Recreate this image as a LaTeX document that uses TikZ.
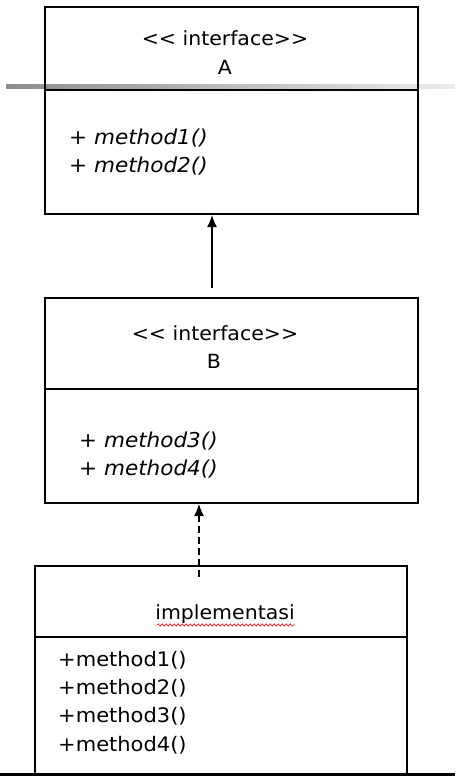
\documentclass[tikz,border=0pt]{standalone}
\usepackage{fontspec}
\setmainfont[FakeStretch=1.05]{DejaVu Sans}
\usetikzlibrary{arrows.meta,decorations.pathmorphing}
\begin{document}
\begin{tikzpicture}[x=1pt,y=-1pt,
  box/.style={draw,line width=1.4pt},
  txt/.style={font=\fontsize{19.5}{22}\selectfont,inner sep=0pt},
  mth/.style={font=\fontsize{20.5}{22}\selectfont\itshape,inner sep=0pt,anchor=west},
  imth/.style={font=\fontsize{20}{22}\selectfont,inner sep=0pt,anchor=west},
  arr/.style={line width=1.4pt,-{Latex[length=12pt,width=10pt]}}]
\useasboundingbox (0,0) rectangle (455,776);
\fill[white] (0,0) rectangle (455,776);
% gray line
\shade[left color=gray!90,right color=gray!15] (6,84) rectangle (455,88);
% Box A
\draw[box] (45,7) rectangle (418,214);
\draw[box] (45,90) -- (418,90);
\node[txt] (Ast) at (225,38) {<{}< interface>{}>};
\node[txt] (An) at (225,67) {A};
\node[mth] (Am1) at (69,138) {+ method1()};
\node[mth] (Am2) at (69,166) {+ method2()};
% Box B
\draw[box] (45,298) rectangle (418,503);
\draw[box] (45,389) -- (418,389);
\node[txt] (Bst) at (215,333) {<{}< interface>{}>};
\node[txt] (Bn) at (214,361) {B};
\node[mth] (Bm3) at (79,441) {+ method3()};
\node[mth] (Bm4) at (79,469) {+ method4()};
% Box implementasi
\draw[box] (35,778) -- (35,566) -- (407,566) -- (407,778);
\draw[box] (35,637) -- (407,637);
\node[txt] (In) at (225,614) {implementasi};
\draw[red,line width=0.6pt,decorate,decoration={snake,amplitude=1.2pt,segment length=4pt}] (157,625) -- (295,625);
\node[imth] (I1) at (58,660) {+method1()};
\node[imth] (I2) at (58,688) {+method2()};
\node[imth] (I3) at (58,716) {+method3()};
\node[imth] (I4) at (58,745) {+method4()};
% bottom thick line
\fill[black] (0,773) rectangle (455,777);
% connectors
\coordinate (a1) at (212,288);
\coordinate (a2) at (212,215);
\draw[arr] (a1) -- (a2);
\coordinate (b1) at (199,577);
\coordinate (b2) at (199,504);
\draw[arr,dash pattern=on 7pt off 4pt] (b1) -- (b2);
\end{tikzpicture}
\end{document}
